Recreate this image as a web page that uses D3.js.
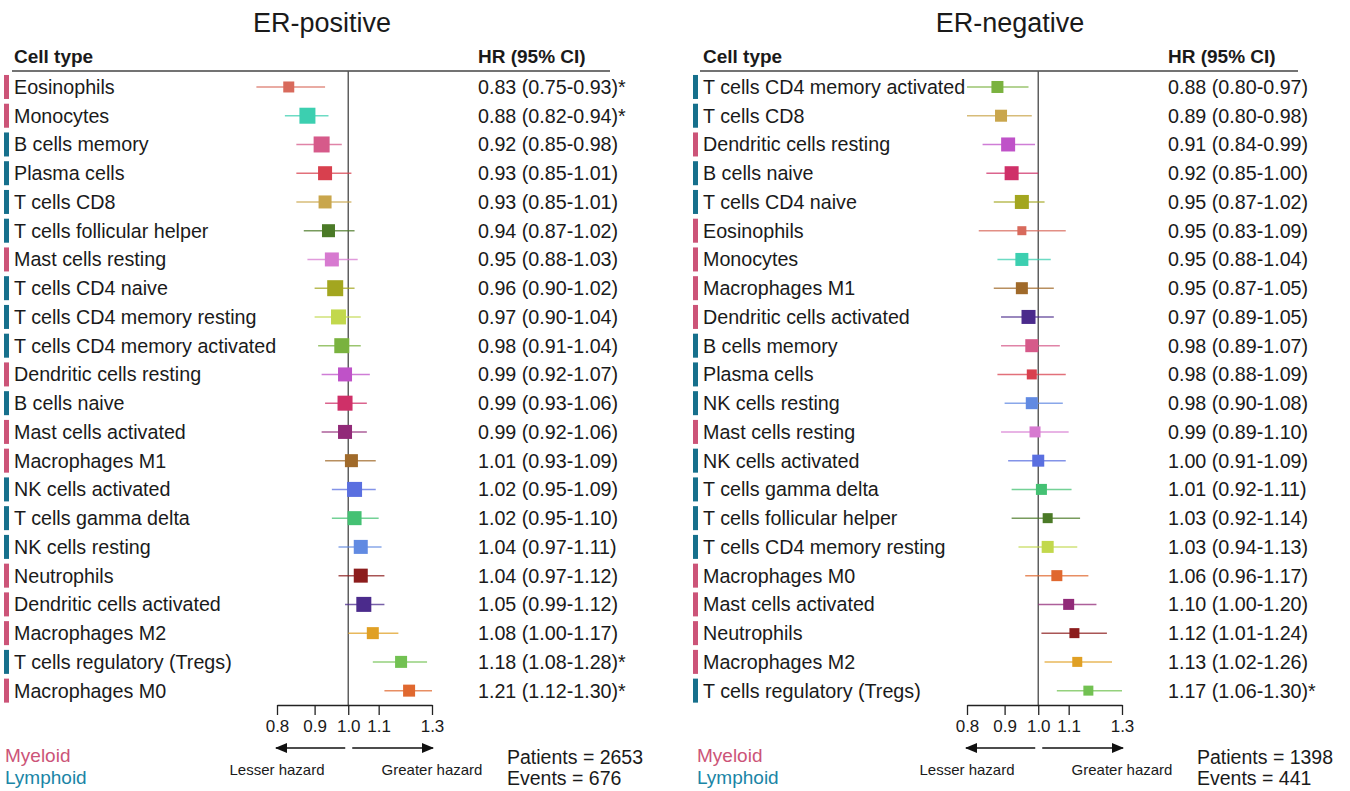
<!DOCTYPE html>
<html>
<head>
<meta charset="utf-8">
<script src="https://cdn.jsdelivr.net/npm/d3@7"></script>
<style>
	body { margin: 0; background: #fff; }
	svg text { font-family: "Liberation Sans", Arial, sans-serif; fill: #1a1a1a; }
</style>
</head>
<body>
<div id="chart"></div>
<script>

// cell types, their colour and lineage (M = myeloid, L = lymphoid)
const cellTypes = ["Eosinophils", "Monocytes", "B cells memory", "Plasma cells", "T cells CD8",
	"T cells follicular helper", "Mast cells resting", "T cells CD4 naive", "T cells CD4 memory resting",
	"T cells CD4 memory activated", "Dendritic cells resting", "B cells naive", "Mast cells activated",
	"Macrophages M1", "NK cells activated", "T cells gamma delta", "NK cells resting", "Neutrophils",
	"Dendritic cells activated", "Macrophages M2", "T cells regulatory (Tregs)", "Macrophages M0"];
const cellColors = ["#d86a5c", "#3ccfb0", "#d65a8a", "#d8404e", "#c9a64c",
	"#4b7a27", "#d77ad0", "#a3a61f", "#c2d84c",
	"#7ab23f", "#bf52c8", "#cf3068", "#912a78",
	"#a06a2a", "#5a6fe0", "#44c173", "#618ae2", "#8c1c1c",
	"#4b2b8c", "#e0a024", "#72c152", "#e0682f"];
const cellLineage = ["M", "M", "L", "L", "L", "L", "M", "L", "L", "L", "M", "L", "M",
	"M", "L", "L", "L", "M", "M", "M", "L", "M"];

const lineageColor = {M: "#cc5478", L: "#16708c"};

// ER-positive
const posCells = ["Eosinophils", "Monocytes", "B cells memory", "Plasma cells", "T cells CD8",
	"T cells follicular helper", "Mast cells resting", "T cells CD4 naive", "T cells CD4 memory resting",
	"T cells CD4 memory activated", "Dendritic cells resting", "B cells naive", "Mast cells activated",
	"Macrophages M1", "NK cells activated", "T cells gamma delta", "NK cells resting", "Neutrophils",
	"Dendritic cells activated", "Macrophages M2", "T cells regulatory (Tregs)", "Macrophages M0"];
const posHR = [0.83, 0.88, 0.92, 0.93, 0.93, 0.94, 0.95, 0.96, 0.97, 0.98, 0.99, 0.99, 0.99,
	1.01, 1.02, 1.02, 1.04, 1.04, 1.05, 1.08, 1.18, 1.21];
const posLo = [0.75, 0.82, 0.85, 0.85, 0.85, 0.87, 0.88, 0.90, 0.90, 0.91, 0.92, 0.93, 0.92,
	0.93, 0.95, 0.95, 0.97, 0.97, 0.99, 1.00, 1.08, 1.12];
const posHi = [0.93, 0.94, 0.98, 1.01, 1.01, 1.02, 1.03, 1.02, 1.04, 1.04, 1.07, 1.06, 1.06,
	1.09, 1.09, 1.10, 1.11, 1.12, 1.12, 1.17, 1.28, 1.30];
const posSig = [1, 1, 0, 0, 0, 0, 0, 0, 0, 0, 0, 0, 0, 0, 0, 0, 0, 0, 0, 0, 1, 1];
const posBox = [11, 16, 16, 14, 13, 13, 14, 16, 15, 15, 14, 15, 14, 13, 15, 14, 14, 14, 15, 12, 12, 12];

// ER-negative
const negCells = ["T cells CD4 memory activated", "T cells CD8", "Dendritic cells resting", "B cells naive",
	"T cells CD4 naive", "Eosinophils", "Monocytes", "Macrophages M1", "Dendritic cells activated",
	"B cells memory", "Plasma cells", "NK cells resting", "Mast cells resting", "NK cells activated",
	"T cells gamma delta", "T cells follicular helper", "T cells CD4 memory resting", "Macrophages M0",
	"Mast cells activated", "Neutrophils", "Macrophages M2", "T cells regulatory (Tregs)"];
const negHR = [0.88, 0.89, 0.91, 0.92, 0.95, 0.95, 0.95, 0.95, 0.97, 0.98, 0.98, 0.98, 0.99,
	1.00, 1.01, 1.03, 1.03, 1.06, 1.10, 1.12, 1.13, 1.17];
const negLo = [0.80, 0.80, 0.84, 0.85, 0.87, 0.83, 0.88, 0.87, 0.89, 0.89, 0.88, 0.90, 0.89,
	0.91, 0.92, 0.92, 0.94, 0.96, 1.00, 1.01, 1.02, 1.06];
const negHi = [0.97, 0.98, 0.99, 1.00, 1.02, 1.09, 1.04, 1.05, 1.05, 1.07, 1.09, 1.08, 1.10,
	1.09, 1.11, 1.14, 1.13, 1.17, 1.20, 1.24, 1.26, 1.30];
const negSig = [0, 0, 0, 0, 0, 0, 0, 0, 0, 0, 0, 0, 0, 0, 0, 0, 0, 0, 0, 0, 0, 1];
const negBox = [12, 12, 14, 14, 14, 9, 13, 12, 14, 13, 10, 12, 11, 12, 11, 10, 12, 11, 11, 10, 10, 10];

const axisTicks = [0.8, 0.9, 1.0, 1.1, 1.3];

const svg = d3.select("#chart").append("svg")
	.attr("width", 1350)
	.attr("height", 791);

// arrow head
svg.append("defs").append("marker")
	.attr("id", "arrow")
	.attr("viewBox", "0 0 12 10")
	.attr("refX", 11).attr("refY", 5)
	.attr("markerWidth", 12).attr("markerHeight", 10)
	.attr("markerUnits", "userSpaceOnUse")
	.attr("orient", "auto-start-reverse")
	.append("path")
	.attr("d", "M0,0L12,5L0,10z")
	.attr("fill", "#111");

function drawPanel(p){
	let g = svg.append("g");

	let rows = p.cells.map((c, i) => {
		let k = cellTypes.indexOf(c);
		return {cell: c, hr: p.hr[i], lo: p.lo[i], hi: p.hi[i], sig: p.sig[i], box: p.box[i],
			color: cellColors[k], lineage: cellLineage[k]};
	});

	let x = d3.scaleLog().domain([0.8, 1.3]).range(p.xRange);
	let y = d3.scaleBand().domain(d3.range(rows.length)).range([72.6, 705]).paddingInner(0);
	let yc = i => y(i) + y.bandwidth() / 2;

	// title and header
	g.append("text")
		.attr("x", p.titleX).attr("y", 32)
		.attr("text-anchor", "middle")
		.style("font-size", "27px")
		.text(p.title);

	g.append("text").attr("x", p.labelX).attr("y", 63)
		.style("font-size", "19px").style("font-weight", "bold")
		.text("Cell type");
	g.append("text").attr("x", p.hrX).attr("y", 63)
		.style("font-size", "19px").style("font-weight", "bold")
		.text("HR (95% CI)");

	g.append("line")
		.attr("x1", p.lineX[0]).attr("x2", p.lineX[1])
		.attr("y1", 71).attr("y2", 71)
		.attr("stroke", "#444").attr("stroke-width", 1.3);

	// reference line at HR = 1
	g.append("line")
		.attr("x1", x(1)).attr("x2", x(1))
		.attr("y1", 71).attr("y2", 705)
		.attr("stroke", "#555").attr("stroke-width", 1.4);

	let row = g.selectAll(".row").data(rows).enter().append("g")
		.attr("class", "row");

	row.append("rect")
		.attr("x", p.labelX - 10).attr("y", (d, i) => yc(i) - 12)
		.attr("width", 5).attr("height", 24)
		.attr("fill", d => lineageColor[d.lineage]);

	row.append("text")
		.attr("x", p.labelX).attr("y", (d, i) => yc(i))
		.attr("dy", "0.35em")
		.style("font-size", "19.7px")
		.text(d => d.cell);

	row.append("text")
		.attr("x", p.hrX).attr("y", (d, i) => yc(i))
		.attr("dy", "0.35em")
		.style("font-size", "19.7px")
		.text(d => d3.format(".2f")(d.hr) + " (" + d3.format(".2f")(d.lo) + "-" + d3.format(".2f")(d.hi) + ")" + (d.sig ? "*" : ""));

	row.append("line")
		.attr("x1", d => x(d.lo)).attr("x2", d => x(d.hi))
		.attr("y1", (d, i) => yc(i)).attr("y2", (d, i) => yc(i))
		.attr("stroke", d => d.color)
		.attr("stroke-opacity", 0.75)
		.attr("stroke-width", 1.5);

	row.append("rect")
		.attr("x", d => x(d.hr) - d.box / 2)
		.attr("y", (d, i) => yc(i) - d.box / 2)
		.attr("width", d => d.box).attr("height", d => d.box)
		.attr("fill", d => d.color);

	// axis
	let axis = g.append("g")
		.attr("transform", "translate(0,705)")
		.call(d3.axisBottom(x).tickValues(axisTicks).tickFormat(d3.format(".1f"))
			.tickSizeInner(10).tickSizeOuter(0).tickPadding(5));
	axis.select(".domain").attr("stroke", "#222").attr("stroke-width", 1.3);
	axis.selectAll(".tick line").attr("stroke", "#222").attr("stroke-width", 1.3);
	axis.selectAll(".tick text")
		.style("font-size", "17px")
		.style("font-family", "\"Liberation Sans\", Arial, sans-serif")
		.attr("fill", "#1a1a1a");

	// hazard arrows
	g.append("line")
		.attr("x1", x(1) - 3).attr("x2", x(0.8) - 1)
		.attr("y1", 748).attr("y2", 748)
		.attr("stroke", "#111").attr("stroke-width", 1.5)
		.attr("marker-end", "url(#arrow)");
	g.append("line")
		.attr("x1", x(1) + 4).attr("x2", x(1.3) + 1)
		.attr("y1", 748).attr("y2", 748)
		.attr("stroke", "#111").attr("stroke-width", 1.5)
		.attr("marker-end", "url(#arrow)");

	g.append("text")
		.attr("x", x(0.8)).attr("y", 775)
		.attr("text-anchor", "middle")
		.style("font-size", "15px")
		.text("Lesser hazard");
	g.append("text")
		.attr("x", x(1.3)).attr("y", 775)
		.attr("text-anchor", "middle")
		.style("font-size", "15px")
		.text("Greater hazard");

	// lineage legend
	g.append("text")
		.attr("x", p.legendX).attr("y", 762)
		.style("font-size", "19px")
		.style("fill", lineageColor.M)
		.text("Myeloid");
	g.append("text")
		.attr("x", p.legendX).attr("y", 784)
		.style("font-size", "19px")
		.style("fill", "#1a85a6")
		.text("Lymphoid");

	// patient counts
	g.append("text")
		.attr("x", p.countX).attr("y", 764)
		.style("font-size", "19.5px")
		.text("Patients = " + p.patients);
	g.append("text")
		.attr("x", p.countX).attr("y", 785)
		.style("font-size", "19.5px")
		.text("Events = " + p.events);
}

drawPanel({
	title: "ER-positive", titleX: 322,
	cells: posCells, hr: posHR, lo: posLo, hi: posHi, sig: posSig, box: posBox,
	xRange: [277, 432], labelX: 14, hrX: 478, lineX: [12, 610],
	legendX: 5, countX: 507, patients: 2653, events: 676
});

drawPanel({
	title: "ER-negative", titleX: 1010,
	cells: negCells, hr: negHR, lo: negLo, hi: negHi, sig: negSig, box: negBox,
	xRange: [967, 1122], labelX: 703, hrX: 1168, lineX: [700, 1298],
	legendX: 697, countX: 1197, patients: 1398, events: 441
});

</script>
</body>
</html>
